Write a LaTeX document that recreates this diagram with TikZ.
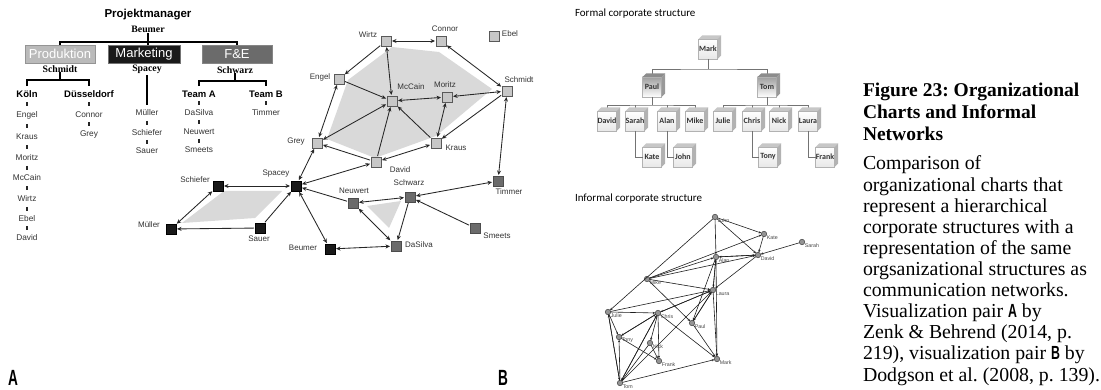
\documentclass[tikz,border=0pt]{standalone}
\usepackage{fontspec}
\usepackage{graphicx}
\setmainfont{Liberation Serif}
\setsansfont{Liberation Sans}
\newfontfamily\calib{Carlito}
\usetikzlibrary{arrows.meta,calc}

% condensed bold sans letters used as panel markers
\newcommand{\panelletter}[1]{\scalebox{0.62}[1]{\sffamily\bfseries\fontsize{22}{22}\selectfont #1}}
\newcommand{\inlineletter}[1]{\scalebox{0.65}[1]{\sffamily\bfseries\fontsize{19}{19}\selectfont #1}}

\tikzset{
  every node/.style={inner sep=0pt, outer sep=0pt},
  % hierarchy chart
  ttl/.style={font=\sffamily\bfseries\fontsize{11.5}{12}\selectfont},
  mgr/.style={font=\rmfamily\bfseries\fontsize{9.8}{10}\selectfont},
  dept/.style={minimum width=70pt, minimum height=18pt, line width=0.8pt,
    font=\sffamily\fontsize{13}{13}\selectfont, text=white},
  unit/.style={font=\sffamily\bfseries\fontsize{9.5}{10}\selectfont},
  member/.style={font=\sffamily\fontsize{8.3}{9}\selectfont, text=black!80},
  bar/.style={line width=1.4pt, black},
  tickmark/.style={line width=1.7pt, black!85},
  % communication network
  lsq/.style={draw=black!65, fill=black!22, minimum size=10pt, line width=0.6pt},
  bsq/.style={draw=black, fill=black!90, minimum size=10pt, line width=0.6pt},
  gsq/.style={draw=black!70, fill=black!58, minimum size=10pt, line width=0.6pt},
  netlab/.style={font=\sffamily\fontsize{8}{8}\selectfont, text=black!80},
  polyfill/.style={fill=black!15},
  aA/.style={line width=0.85pt, draw=black!85, -{Stealth[length=4.5pt,width=4pt]},
    shorten >=1pt, shorten <=1pt},
  aAA/.style={aA, {Stealth[length=4.5pt,width=4pt]}-{Stealth[length=4.5pt,width=4pt]}},
  % formal chart
  sect/.style={font=\calib\fontsize{11}{11}\selectfont, anchor=base west},
  obox/.style={draw=black!30, line width=0.4pt, minimum width=19pt, minimum height=20pt,
    top color=white, bottom color=black!9, font=\calib\bfseries\fontsize{8}{8}\selectfont, text=black!80},
  hbox/.style={obox, top color=black!38, bottom color=white},
  oline/.style={line width=0.6pt, black!55},
  % informal network
  inode/.style={circle, minimum size=5.5pt, fill=black!42, draw=black!75, line width=0.5pt},
  ilab/.style={font=\sffamily\fontsize{5.3}{5.3}\selectfont, text=black!72, anchor=west},
  iE/.style={line width=0.6pt, draw=black!88, -{Stealth[length=2.6pt,width=2.2pt]}},
  % caption
  capt/.style={font=\rmfamily\bfseries\fontsize{19.5}{22}\selectfont\frenchspacing, anchor=base west},
  capb/.style={font=\rmfamily\fontsize{19.8}{21}\selectfont\frenchspacing, anchor=base west}
}

\begin{document}
\begin{tikzpicture}[x=1pt,y=-1pt]
\fill[white] (0,0) rectangle (1101,390);
\useasboundingbox (0,0) rectangle (1101,390);

%% ---------------- A: hierarchy chart ----------------
\node[ttl] (pm) at (148,15) {Projektmanager};
\node[mgr] (pmBeumer) at (148,29.5) {Beumer};
\node[dept, fill=black!27, draw=black!42] (dProd) at (60,54) {Produktion};
\node[dept, fill=black!90, draw=black!55, minimum width=72pt] (dMark) at (144,54) {Marketing};
\node[dept, fill=black!58, draw=black!48] (dFE) at (237,54) {F\&E};
\coordinate (barTop) at (148,42);
\draw[bar] (pmBeumer.south) -- (barTop);
\draw[bar] (dProd.north) |- (barTop) -| (dFE.north);
\draw[bar] (barTop) -- (barTop |- dMark.north);

\node[mgr] (mSchmidt) at (60,69) {Schmidt};
\node[mgr] (mSpacey) at (147,69) {Spacey};
\node[mgr] (mSchwarz) at (235,70) {Schwarz};

\node[unit] (uKoeln) at (27,94) {Köln};
\node[unit] (uDuss) at (89,94) {Düsseldorf};
\node[unit] (uTeamA) at (199,94) {Team A};
\node[unit] (uTeamB) at (266,94) {Team B};

\coordinate (barSchmidt) at (60,80);
\coordinate (barSchwarz) at (235,81);
\draw[bar] (mSchmidt.south) -- (barSchmidt);
\draw[bar, shorten <=4.5pt, shorten >=4.5pt] (uKoeln.north) |- (barSchmidt) -| (uDuss.north);
\draw[bar] (mSchwarz.south) -- (barSchwarz);
\draw[bar, shorten <=4.5pt, shorten >=4.5pt] (uTeamA.north) |- (barSchwarz) -| (uTeamB.north);

\node[member] (kEngel) at (27,115) {Engel};
\node[member] (kKraus) at (27,137) {Kraus};
\node[member] (kMoritz) at (27,158) {Moritz};
\node[member] (kMcCain) at (27,178) {McCain};
\node[member] (kWirtz) at (27,199) {Wirtz};
\node[member] (kEbel) at (27,219) {Ebel};
\node[member] (kDavid) at (27,238) {David};
\node[member] (kConnor) at (89,115) {Connor};
\node[member] (kGrey) at (89,134) {Grey};
\node[member] (kMueller) at (147,113) {Müller};
\node[member] (kSchiefer) at (147,133) {Schiefer};
\node[member] (kSauer) at (147,151) {Sauer};
\node[member] (kDaSilva) at (199,113) {DaSilva};
\node[member] (kNeuwert) at (199,132) {Neuwert};
\node[member] (kSmeets) at (199,150) {Smeets};
\node[member] (kTimmer) at (266,113) {Timmer};

\draw[bar, shorten <=2pt, shorten >=5pt] (mSpacey.south) -- (kMueller.north);

\foreach \a/\b in {uKoeln/kEngel, kEngel/kKraus, kKraus/kMoritz, kMoritz/kMcCain,
    kMcCain/kWirtz, kWirtz/kEbel, kEbel/kDavid, uDuss/kConnor, kConnor/kGrey,
    kMueller/kSchiefer, kSchiefer/kSauer, uTeamA/kDaSilva, kDaSilva/kNeuwert,
    kNeuwert/kSmeets, uTeamB/kTimmer}
  \draw[tickmark] ($(\a)!0.5!(\b)+(0,-2)$) -- ++(0,4);

%% ---------------- A: communication network ----------------
\fill[polyfill] (348,80) -- (392,47) -- (439,52) -- (492,89) -- (436,136) -- (375,158) -- (327,139) -- cycle;
\fill[polyfill] (224,191) -- (282,191) -- (255,218) -- (182,223) -- cycle;
\fill[polyfill] (367,206) -- (401,201) -- (389,228) -- cycle;

\node[lsq] (nWirtz) at (386,41) {};
\node[lsq] (nConnor) at (441,41) {};
\node[lsq] (nEbel) at (494,36) {};
\node[lsq] (nEngel) at (339,79) {};
\node[lsq] (nMcCain) at (392,101) {};
\node[lsq] (nMoritz) at (447,97) {};
\node[lsq] (nSchmidt) at (507,91) {};
\node[lsq] (nGrey) at (317,143) {};
\node[lsq] (nKraus) at (436,143) {};
\node[lsq] (nDavid) at (376,162) {};
\node[bsq] (nSpacey) at (296,186) {};
\node[bsq] (nSchiefer) at (218,186) {};
\node[bsq] (nMueller) at (171,229) {};
\node[bsq] (nSauer) at (260,228) {};
\node[bsq] (nBeumer) at (330,249) {};
\node[gsq] (nNeuwert) at (353,203) {};
\node[gsq] (nSchwarz) at (410,197) {};
\node[gsq] (nDaSilva) at (396,246) {};
\node[gsq] (nTimmer) at (498,181) {};
\node[gsq] (nSmeets) at (475,228) {};

\node[netlab] (lWirtz) at (368,35) {Wirtz};
\node[netlab] (lConnor) at (445,29) {Connor};
\node[netlab] (lEbel) at (510,34) {Ebel};
\node[netlab] (lEngel) at (320,77) {Engel};
\node[netlab] (lMcCain) at (411,87) {McCain};
\node[netlab] (lMoritz) at (445,85) {Moritz};
\node[netlab] (lSchmidt) at (519,80) {Schmidt};
\node[netlab] (lGrey) at (296,142) {Grey};
\node[netlab] (lKraus) at (456,148) {Kraus};
\node[netlab] (lDavid) at (400,170) {David};
\node[netlab] (lSpacey) at (276,174) {Spacey};
\node[netlab] (lSchiefer) at (195,180) {Schiefer};
\node[netlab] (lMueller) at (149,225) {Müller};
\node[netlab] (lSauer) at (259,239) {Sauer};
\node[netlab] (lBeumer) at (303,248) {Beumer};
\node[netlab] (lNeuwert) at (354,191) {Neuwert};
\node[netlab] (lSchwarz) at (409,183) {Schwarz};
\node[netlab] (lDaSilva) at (419,245) {DaSilva};
\node[netlab] (lTimmer) at (509,192) {Timmer};
\node[netlab] (lSmeets) at (497,236) {Smeets};

\foreach \a/\b in {nWirtz/nConnor, nWirtz/nMcCain, nConnor/nSchmidt, nEngel/nGrey,
    nMcCain/nMoritz, nMoritz/nSchmidt, nMoritz/nKraus, nGrey/nMcCain, nDavid/nKraus,
    nSchmidt/nTimmer, nGrey/nSpacey, nDavid/nSpacey, nSchiefer/nSpacey,
    nSchiefer/nMueller, nSpacey/nBeumer, nBeumer/nDaSilva, nNeuwert/nSchwarz,
    nNeuwert/nDaSilva, nSchwarz/nTimmer}
  \draw[aAA] (\a) -- (\b);
\foreach \a/\b in {nWirtz/nEngel, nEngel/nMcCain, nSchmidt/nKraus, nKraus/nMcCain,
    nDavid/nMcCain, nDavid/nGrey, nSauer/nMueller, nSauer/nSpacey, nNeuwert/nSpacey,
    nSchwarz/nDaSilva, nSmeets/nSchwarz}
  \draw[aA] (\a) -- (\b);

\node (lblA) at (13,378) {\panelletter{A}};

%% ---------------- B: formal structure ----------------
\node[sect] (tFormal) at (575,17) {Formal corporate structure};

\node[obox] (fMark) at (708,49) {Mark};
\node[hbox] (fPaul) at (652,87) {Paul};
\node[hbox] (fTom) at (767,87) {Tom};
\node[obox] (fDavid) at (607,121) {David};
\node[obox] (fSarah) at (635,121) {Sarah};
\node[obox] (fAlan) at (667,121) {Alan};
\node[obox] (fMike) at (695,121) {Mike};
\node[obox] (fJulie) at (723,121) {Julie};
\node[obox] (fChris) at (752,121) {Chris};
\node[obox] (fNick) at (779,121) {Nick};
\node[obox] (fLaura) at (808,121) {Laura};
\node[obox] (fKate) at (652,157) {Kate};
\node[obox] (fJohn) at (683,157) {John};
\node[obox] (fTony) at (768,157) {Tony};
\node[obox] (fFrank) at (825,157) {Frank};

\coordinate (fBarTop) at (708,69);
\coordinate (fBarPaul) at (652,105);
\coordinate (fBarTom) at (767,105);
\draw[oline] (fMark.south) -- (fBarTop);
\draw[oline] (fPaul.north) |- (fBarTop) -| (fTom.north);
\draw[oline] (fPaul.south) -- (fBarPaul);
\draw[oline] (fDavid.north) |- (fBarPaul) -| (fMike.north);
\draw[oline] (fSarah.north) -- (fSarah.north |- fBarPaul);
\draw[oline] (fAlan.north) -- (fAlan.north |- fBarPaul);
\draw[oline] (fTom.south) -- (fBarTom);
\draw[oline] (fJulie.north) |- (fBarTom) -| (fLaura.north);
\draw[oline] (fChris.north) -- (fChris.north |- fBarTom);
\draw[oline] (fNick.north) -- (fNick.north |- fBarTom);
\draw[oline] (fSarah.south) |- (fKate.west);
\draw[oline] (fAlan.south) |- (fJohn.west);
\draw[oline] (fChris.south) |- (fTony.west);
\draw[oline] (fLaura.south) |- (fFrank.west);

% block depth: top and right faces
\foreach \n/\tc/\sc in {fMark/22/28, fPaul/45/40, fTom/45/40, fDavid/22/30, fSarah/22/30,
    fAlan/22/30, fMike/22/30, fJulie/22/30, fChris/22/30, fNick/22/30, fLaura/22/30,
    fKate/22/30, fJohn/22/30, fTony/22/30, fFrank/22/30} {
  \fill[black!\tc] (\n.north west) -- ++(3.5,-3.5) -- ($(\n.north east)+(3.5,-3.5)$)
    -- (\n.north east) -- cycle;
  \fill[black!\sc] (\n.north east) -- ++(3.5,-3.5) -- ($(\n.south east)+(3.5,-3.5)$)
    -- (\n.south east) -- cycle;
}

%% ---------------- B: informal structure ----------------
\node[sect] (tInformal) at (575,202) {Informal corporate structure};

\foreach \nm/\x/\y in {John/715/217, Kate/764/234, Sarah/802/242, Alan/716/257,
    David/758/255, Mike/647/279, Laura/713/290, Julie/608/312, Chris/658/313,
    Paul/692/323, Tony/619/337, Nick/650/343, Frank/659/361, Mark/717/359, Tom/620/383}
  \node[inode] (i\nm) at (\x,\y) {};

\foreach \a/\b in {John/Kate, John/David, John/Alan, John/Julie, Kate/David,
    Sarah/David, Mike/Kate, Mike/Alan, Mike/David, Alan/David, David/Alan,
    Alan/Laura, Laura/Alan, David/Laura, Alan/Paul, Mike/Laura, Mike/Paul,
    Julie/Laura, Julie/Chris, Julie/Tony, Julie/Tom, Tom/Julie, Chris/Laura,
    Laura/Chris, Chris/Tony, Tony/Chris, Chris/Nick, Chris/Frank, Chris/Tom, Tom/Chris,
    Chris/Mark, Paul/Laura, Laura/Paul, Paul/Mark, Laura/Mark, Alan/Mark,
    Tony/Frank, Tom/Tony, Nick/Frank, Nick/Tom, Tom/Mark, Tom/Laura}
  \draw[iE] (i\a) -- (i\b);

\foreach \nm in {John, Kate, Sarah, Alan, David, Mike, Laura, Julie, Chris,
    Paul, Tony, Nick, Frank, Mark, Tom}
  \node[ilab] (il\nm) at ($(i\nm)+(2.8,3.5)$) {\nm};

\node (lblB) at (503,378) {\panelletter{B}};

%% ---------------- caption ----------------
\node[capt] (c1) at (863,97) {Figure 23: Organizational};
\node[capt] (c2) at (863,119) {Charts and Informal};
\node[capt] (c3) at (863,141) {Networks};
\node[capb] (b1) at (863,170) {Comparison of};
\node[capb] (b2) at (863,191.1) {organizational charts that};
\node[capb] (b3) at (863,212.2) {represent a hierarchical};
\node[capb] (b4) at (863,233.3) {corporate structures with a};
\node[capb] (b5) at (863,254.4) {representation of the same};
\node[capb] (b6) at (863,275.5) {orgsanizational structures as};
\node[capb] (b7) at (863,296.6) {communication networks.};
\node[capb] (b8) at (863,317.7) {Visualization pair \inlineletter{A} by};
\node[capb] (b9) at (863,338.8) {Zenk \& Behrend (2014, p.};
\node[capb] (b10) at (863,359.9) {219), visualization pair \inlineletter{B} by};
\node[capb] (b11) at (863,381) {Dodgson et al. (2008, p. 139).};
\end{tikzpicture}
\end{document}
